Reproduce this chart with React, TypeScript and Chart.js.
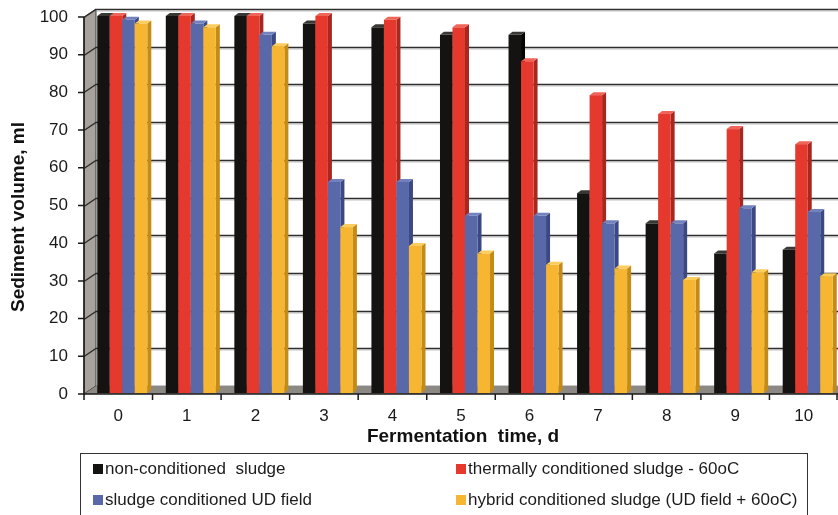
import React, { useEffect, useRef } from "react";
import { Chart, registerables } from "chart.js";

Chart.register(...registerables);

// Fermentation days
const DAYS = ["0", "1", "2", "3", "4", "5", "6", "7", "8", "9", "10"];

// Sediment volume, ml
const NON_CONDITIONED = [100, 100, 100, 98, 97, 95, 95, 53, 45, 37, 38];
const THERMAL_60C = [100, 100, 100, 100, 99, 97, 88, 79, 74, 70, 66];
const UD_FIELD = [99, 98, 95, 56, 56, 47, 47, 45, 45, 49, 48];
const HYBRID = [98, 97, 92, 44, 39, 37, 34, 33, 30, 32, 31];

const SERIES_NAMES = [
  "non-conditioned  sludge",
  "thermally conditioned sludge - 60oC",
  "sludge conditioned UD field",
  "hybrid conditioned sludge (UD field + 60oC)",
];

const Y_MIN = 0;
const Y_MAX = 100;
const Y_STEP = 10;

const X_TITLE = "Fermentation  time, d";
const Y_TITLE = "Sediment volume, ml";

// front / top / side shades for the 3D columns
const FRONT = ["#151311", "#e6392e", "#5868a8", "#f6b631"];
const TOP = ["#3a3835", "#f0655a", "#7282bf", "#fbcd5c"];
const SIDE = ["#050504", "#a8271f", "#3b4884", "#c58b17"];

const FONT = "'Liberation Sans', Arial, Helvetica, sans-serif";

const WALL_DX = 12;
const WALL_DY = 8;
const BAR_SHIFT_X = 4;
const BAR_SHIFT_Y = 1;
const BAR_DX = 4;
const BAR_DY = 3;

const scene3d = {
  id: "scene3d",
  beforeDatasetsDraw(chart: any) {
    const { ctx, chartArea, scales } = chart;
    const { left, right, bottom } = chartArea;
    const ys = scales.y;
    const yTop = ys.getPixelForValue(Y_MAX);

    ctx.save();
    // left side wall
    ctx.beginPath();
    ctx.moveTo(left, yTop);
    ctx.lineTo(left + WALL_DX, yTop - WALL_DY);
    ctx.lineTo(left + WALL_DX, bottom - WALL_DY);
    ctx.lineTo(left, bottom);
    ctx.closePath();
    ctx.fillStyle = "#a7a29b";
    ctx.fill();
    ctx.lineWidth = 1;
    ctx.strokeStyle = "#3a3a3a";
    ctx.stroke();

    // back-wall gridlines and their traces across the side wall
    ys.ticks.forEach((t: any) => {
      const py = Math.round(ys.getPixelForValue(t.value)) + 0.5;
      ctx.beginPath();
      ctx.moveTo(left, py);
      ctx.lineTo(left + WALL_DX, py - WALL_DY);
      ctx.lineTo(right, py - WALL_DY);
      ctx.strokeStyle = "#2e2e2e";
      ctx.lineWidth = 1.4;
      ctx.stroke();
      ctx.beginPath();
      ctx.moveTo(left + WALL_DX, py - WALL_DY + 1.5);
      ctx.lineTo(right, py - WALL_DY + 1.5);
      ctx.strokeStyle = "rgba(150,150,150,0.6)";
      ctx.lineWidth = 1;
      ctx.stroke();
    });

    // floor
    ctx.beginPath();
    ctx.moveTo(left, bottom);
    ctx.lineTo(left + WALL_DX, bottom - WALL_DY);
    ctx.lineTo(right, bottom - WALL_DY);
    ctx.lineTo(right, bottom);
    ctx.closePath();
    ctx.fillStyle = "#8c8984";
    ctx.fill();

    // columns: category by category, series left to right
    const metas = chart.data.datasets.map((_: any, i: number) => chart.getDatasetMeta(i));
    const n = chart.data.labels.length;
    for (let j = 0; j < n; j++) {
      metas.forEach((meta: any, i: number) => {
        const el = meta.data[j];
        if (!el) return;
        const w = el.width;
        const x0 = el.x - w / 2 + BAR_SHIFT_X;
        const x1 = x0 + w;
        const yT = el.y - BAR_SHIFT_Y;
        const yB = el.base - BAR_SHIFT_Y;
        // side face
        ctx.beginPath();
        ctx.moveTo(x1, yT);
        ctx.lineTo(x1 + BAR_DX, yT - BAR_DY);
        ctx.lineTo(x1 + BAR_DX, yB - BAR_DY);
        ctx.lineTo(x1, yB);
        ctx.closePath();
        ctx.fillStyle = SIDE[i];
        ctx.fill();
        // top face
        ctx.beginPath();
        ctx.moveTo(x0, yT);
        ctx.lineTo(x0 + BAR_DX, yT - BAR_DY);
        ctx.lineTo(x1 + BAR_DX, yT - BAR_DY);
        ctx.lineTo(x1, yT);
        ctx.closePath();
        ctx.fillStyle = TOP[i];
        ctx.fill();
        // front face
        ctx.fillStyle = FRONT[i];
        ctx.fillRect(x0, yT, w, yB - yT);
      });
    }
    ctx.restore();
    return false;
  },
  afterDraw(chart: any) {
    const { ctx, chartArea, scales } = chart;
    const { left, right, bottom } = chartArea;
    const ys = scales.y;
    ctx.save();
    ctx.strokeStyle = "#1a1a1a";
    ctx.lineWidth = 1.5;
    // value axis with outward ticks
    ctx.beginPath();
    ctx.moveTo(left, ys.getPixelForValue(Y_MAX));
    ctx.lineTo(left, bottom);
    ys.ticks.forEach((t: any) => {
      const py = ys.getPixelForValue(t.value);
      ctx.moveTo(left - 6, py);
      ctx.lineTo(left, py);
    });
    // category axis with ticks at category borders
    ctx.moveTo(left, bottom);
    ctx.lineTo(right, bottom);
    const n = chart.data.labels.length;
    const step = (right - left) / n;
    for (let k = 0; k <= n; k++) {
      const px = Math.min(left + step * k, right - 1);
      ctx.moveTo(px, bottom);
      ctx.lineTo(px, bottom + 6);
    }
    ctx.stroke();

    // axis titles
    ctx.fillStyle = "#111";
    ctx.font = `bold 19px ${FONT}`;
    ctx.textAlign = "center";
    ctx.textBaseline = "middle";
    ctx.fillText(X_TITLE, (left + right) / 2 + 2, 437);
    ctx.save();
    ctx.translate(19, 217);
    ctx.rotate(-Math.PI / 2);
    ctx.fillText(Y_TITLE, 0, 0);
    ctx.restore();

    // legend box
    ctx.strokeStyle = "#333";
    ctx.lineWidth = 1;
    ctx.strokeRect(80.5, 453.5, 727, 70);
    const cols = [93, 456];
    const rows = [469, 500];
    ctx.font = `17px ${FONT}`;
    ctx.textAlign = "left";
    ctx.textBaseline = "middle";
    SERIES_NAMES.forEach((name, i) => {
      const cx = cols[i % 2];
      const cy = rows[Math.floor(i / 2)];
      ctx.fillStyle = FRONT[i];
      ctx.fillRect(cx, cy - 5, 10, 10);
      ctx.fillStyle = "#1c1c1c";
      ctx.fillText(name, cx + 12, cy);
    });
    ctx.restore();
  },
};

export default function App() {
  const ref = useRef<HTMLCanvasElement | null>(null);

  useEffect(() => {
    document.body.style.margin = "0";
    const canvas = ref.current;
    if (!canvas) return;
    const series = [NON_CONDITIONED, THERMAL_60C, UD_FIELD, HYBRID];
    const chart = new Chart(canvas, {
      type: "bar",
      data: {
        labels: DAYS,
        datasets: series.map((d, i) => ({
          label: SERIES_NAMES[i],
          data: d,
          backgroundColor: FRONT[i],
          barPercentage: 1,
          categoryPercentage: 0.73,
        })),
      },
      options: {
        responsive: false,
        animation: false,
        devicePixelRatio: 1,
        layout: { padding: { top: 17, right: 0, left: 0, bottom: 0 } },
        plugins: { legend: { display: false }, tooltip: { enabled: false } },
        scales: {
          x: {
            grid: { display: false, drawTicks: false },
            border: { display: false },
            ticks: {
              padding: 12,
              color: "#1a1a1a",
              font: { family: FONT, size: 17 },
              maxRotation: 0,
            },
            afterFit: (s: any) => {
              s.height = 121;
              s.paddingLeft = 0;
              s.paddingRight = 0;
            },
          },
          y: {
            min: Y_MIN,
            max: Y_MAX,
            grid: { display: false, drawTicks: false },
            border: { display: false },
            ticks: {
              stepSize: Y_STEP,
              padding: 16,
              color: "#1a1a1a",
              font: { family: FONT, size: 17 },
            },
            afterFit: (s: any) => {
              s.width = 84;
              s.paddingTop = 0;
              s.paddingBottom = 0;
            },
          },
        },
      },
      plugins: [scene3d],
    });
    return () => chart.destroy();
  }, []);

  return <canvas ref={ref} width={838} height={515} style={{ display: "block" }} />;
}
